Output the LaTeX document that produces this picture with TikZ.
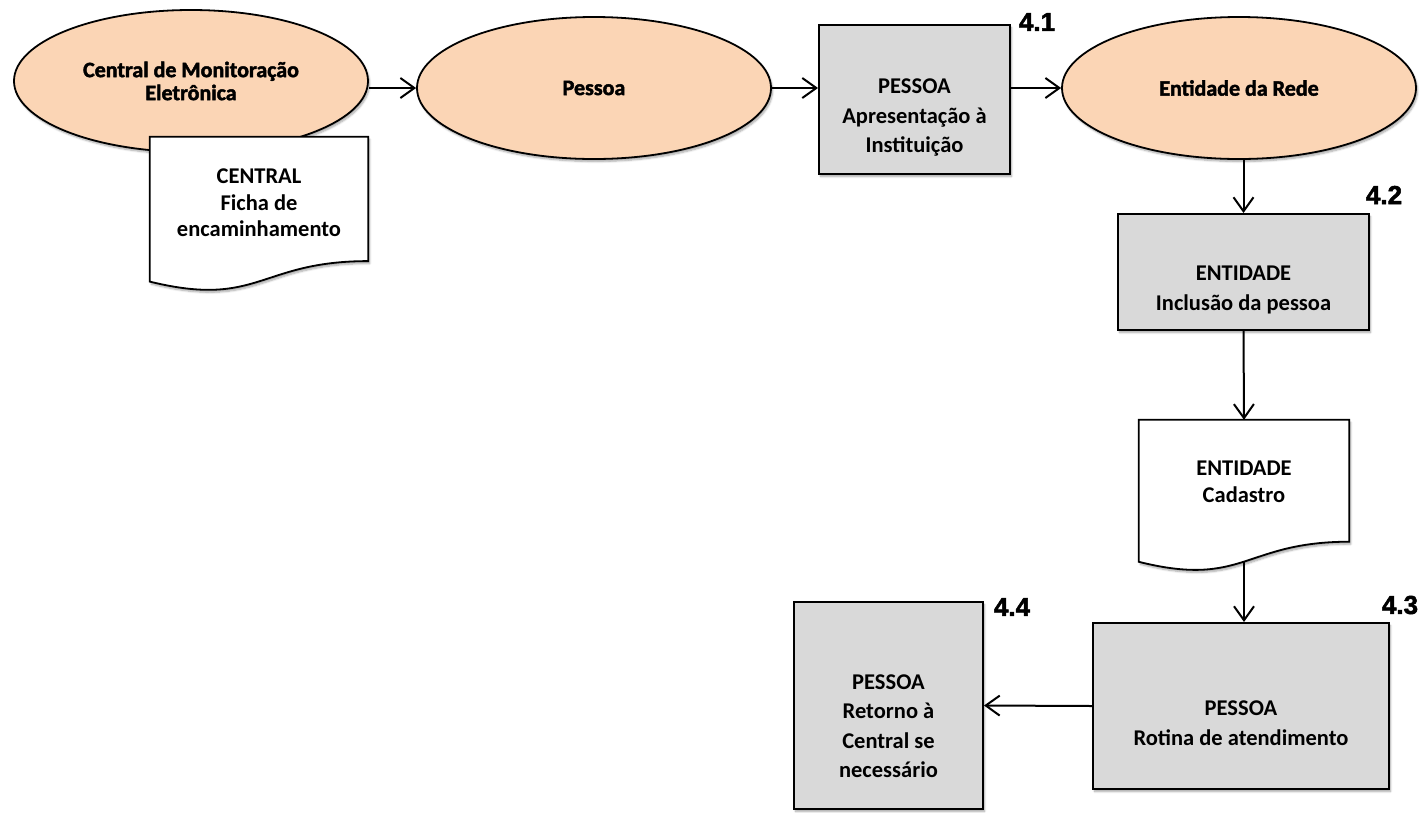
\documentclass[tikz,border=0pt]{standalone}
\usepackage{fontspec}
\setmainfont{Carlito}
\newfontfamily\heavyfont{Carlito}[BoldFeatures={FakeBold=2}]
\newfontfamily\numfont{Liberation Sans}[BoldFeatures={FakeBold=2}]
\usetikzlibrary{arrows.meta,shapes.geometric,shadows.blur,calc}

\definecolor{peach}{HTML}{FBD5B5}
\definecolor{boxgray}{HTML}{D9D9D9}

\tikzset{
  shade/.style={blur shadow={shadow xshift=1.5pt,shadow yshift=-2.5pt,shadow opacity=35,shadow blur steps=6}},
  actor/.style={ellipse,draw=black,line width=1.8pt,fill=peach,shade,
    minimum width=354pt,minimum height=142pt,inner sep=0pt,
    align=center,font=\heavyfont\bfseries\fontsize{22}{23}\selectfont},
  procbox/.style={rectangle,draw=black,line width=2pt,fill=boxgray,shade,inner sep=0pt},
  docarea/.style={rectangle,inner sep=0pt},
  doctext/.style={align=center,font=\bfseries\fontsize{22.5}{26.5}\selectfont},
  boxtext/.style={align=center,font=\bfseries\fontsize{22.5}{29.5}\selectfont},
  stepno/.style={font=\numfont\bfseries\fontsize{26}{28}\selectfont,inner sep=0pt},
  conn/.style={line width=2pt,-{Straight Barb[length=14pt,width=20pt,line width=2pt]}},
}

\begin{document}
\begin{tikzpicture}[x=1pt,y=-1pt]
\useasboundingbox (0,0) rectangle (1427,812);

% actors
\node[actor] (central) at (191,81) {Central de Monitoração\\Eletrônica};
\node[actor] (pessoa) at (594,88) {Pessoa};
\node[actor] (entidade) at (1239,88) {Entidade da Rede};

% document: referral form
\node[docarea,minimum width=218pt,minimum height=155pt] (doc1) at (259,214.5) {};
\path[draw=black,line width=1.8pt,fill=white,shade]
  (doc1.north west) -- (doc1.north east)
  -- ($(doc1.north east)+(0,124.3)$)
  .. controls ($(doc1.north)+(0,124.3)$) and ($(doc1.north)+(0,171.6)$) .. ($(doc1.north west)+(0,144.8)$)
  -- cycle;
\node[doctext] (doc1t) at (259,203) {CENTRAL\\Ficha de\\encaminhamento};

% process 4.1
\node[procbox,minimum width=191pt,minimum height=149pt] (b41) at (914.5,99.5) {};
\node[boxtext] (b41t) at (914.5,118) {PESSOA\\Apresentação à\\Instituição};
\node[stepno] (n41) at (1037,22) {4.1};

% process 4.2
\node[procbox,minimum width=251pt,minimum height=116pt] (b42) at (1243.5,272) {};
\node[boxtext] (b42t) at (1243.5,290) {ENTIDADE\\Inclusão da pessoa};
\node[stepno] (n42) at (1384,195) {4.2};

% document: registration
\node[docarea,minimum width=210pt,minimum height=152pt] (doc2) at (1244,496) {};
\path[draw=black,line width=1.8pt,fill=white,shade]
  (doc2.north west) -- (doc2.north east)
  -- ($(doc2.north east)+(0,121.9)$)
  .. controls ($(doc2.north)+(0,121.9)$) and ($(doc2.north)+(0,168.3)$) .. ($(doc2.north west)+(0,142.0)$)
  -- cycle;
\node[doctext] (doc2t) at (1244,482) {ENTIDADE\\Cadastro};
\coordinate (doc2b) at ($(doc2.north)+(0,141.8)$);

% process 4.3
\node[procbox,minimum width=296pt,minimum height=166pt] (b43) at (1241,706) {};
\node[boxtext] (b43t) at (1241,723) {PESSOA\\Rotina de atendimento};
\node[stepno] (n43) at (1400,605) {4.3};

% process 4.4
\node[procbox,minimum width=189pt,minimum height=207pt] (b44) at (888.5,705.5) {};
\node[boxtext] (b44t) at (888.5,726) {PESSOA\\Retorno à\\Central se\\necessário};
\node[stepno] (n44) at (1012,607) {4.4};

% connectors
\draw[conn] (central.east |- pessoa.west) -- (pessoa.west);
\draw[conn] (pessoa.east) -- (pessoa.east -| b41.west);
\draw[conn] (b41.east |- entidade.west) -- (entidade.west);
\draw[conn] (entidade.south -| b42.north) -- (b42.north);
\draw[conn] (b42.south) -- (doc2.north);
\draw[conn] (doc2b) -- (doc2b |- b43.north);
\draw[conn] (b43.west) -- (b44.east);
\end{tikzpicture}
\end{document}
